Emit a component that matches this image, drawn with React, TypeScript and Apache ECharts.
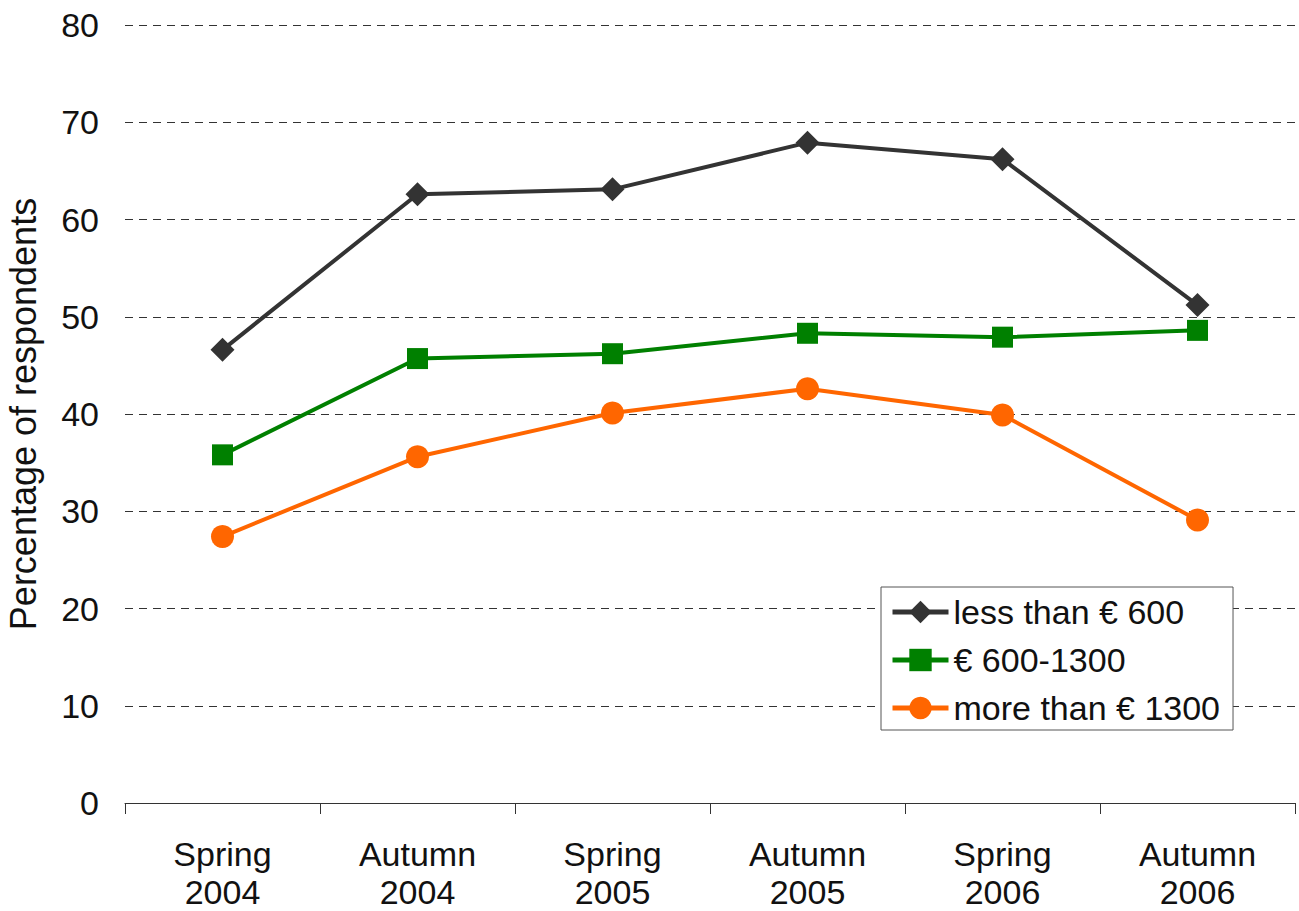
import React, { useEffect, useRef } from "react";
import * as echarts from "echarts";

const categories = ["Spring\n2004", "Autumn\n2004", "Spring\n2005", "Autumn\n2005", "Spring\n2006", "Autumn\n2006"];
const lessThan600 = [46.6, 62.6, 63.1, 67.9, 66.2, 51.2];
const from600to1300 = [35.8, 45.7, 46.2, 48.3, 47.9, 48.6];
const moreThan1300 = [27.4, 35.6, 40.1, 42.6, 39.9, 29.1];
const seriesNames = ["less than € 600", "€ 600-1300", "more than € 1300"];

export default function App() {
  const ref = useRef<HTMLDivElement>(null);
  useEffect(() => {
    if (!ref.current) return;
    const chart = echarts.init(ref.current, null, { renderer: "svg" });
    const font = "Liberation Sans, Arial, sans-serif";
    chart.setOption({
      animation: false,
      backgroundColor: "#ffffff",
      textStyle: { fontFamily: font },
      grid: { left: 125, right: 4, top: 25, bottom: 108, outerBoundsMode: "none", containLabel: false },
      legend: {
        orient: "vertical",
        left: 881,
        top: 587,
        padding: [6, 13, 3, 9],
        itemGap: 10,
        itemWidth: 56,
        itemHeight: 28,
        borderColor: "#555555",
        borderWidth: 1,
        backgroundColor: "#ffffff",
        lineStyle: { width: 5 },
        textStyle: { fontSize: 34, color: "#111111", fontFamily: font, lineHeight: 38 },
        data: seriesNames,
      },
      xAxis: {
        type: "category",
        data: categories,
        boundaryGap: true,
        axisLine: { lineStyle: { color: "#333333", width: 1 } },
        axisTick: { show: true, length: 11, lineStyle: { color: "#333333" } },
        axisLabel: { fontSize: 34, color: "#111111", margin: 32, lineHeight: 38, fontFamily: font, interval: 0 },
        splitLine: { show: false },
      },
      yAxis: {
        type: "value",
        min: 0,
        max: 80,
        interval: 10,
        name: "Percentage of respondents",
        nameLocation: "middle",
        nameGap: 84,
        nameRotate: 90,
        nameTextStyle: { fontSize: 36, color: "#111111", fontFamily: font },
        axisLine: { show: false },
        axisTick: { show: false },
        axisLabel: { fontSize: 34, color: "#111111", margin: 26, fontFamily: font },
        splitLine: { show: true, lineStyle: { color: "#333333", type: [8, 6], width: 1 } },
      },
      series: [
        {
          name: seriesNames[0],
          type: "line",
          data: lessThan600,
          symbol: "diamond",
          symbolSize: 24,
          itemStyle: { color: "#333333" },
          lineStyle: { color: "#333333", width: 4 },
        },
        {
          name: seriesNames[1],
          type: "line",
          data: from600to1300,
          symbol: "rect",
          symbolSize: 21,
          itemStyle: { color: "#008000" },
          lineStyle: { color: "#008000", width: 4 },
        },
        {
          name: seriesNames[2],
          type: "line",
          data: moreThan1300,
          symbol: "circle",
          symbolSize: 23,
          itemStyle: { color: "#FF6600" },
          lineStyle: { color: "#FF6600", width: 4 },
        },
      ],
    });
    return () => chart.dispose();
  }, []);
  return (
    <div
      ref={ref}
      style={{ position: "absolute", left: 0, top: 0, width: 1299, height: 911 }}
    />
  );
}
